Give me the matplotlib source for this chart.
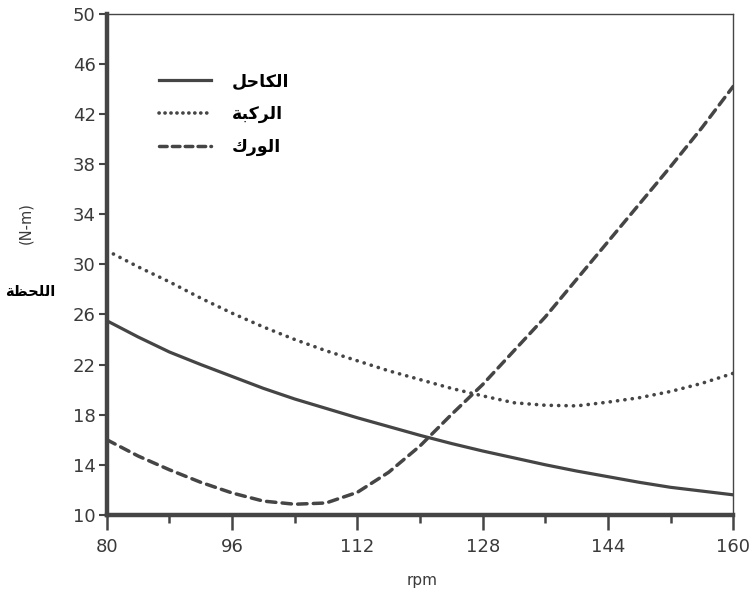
import numpy as np
import matplotlib
matplotlib.use("Agg")
import matplotlib.pyplot as plt
from matplotlib.lines import Line2D

# rpm values and joint moments (N-m)
rpm = [80, 84, 88, 92, 96, 100, 104, 108, 112, 116, 120,
       124, 128, 132, 136, 140, 144, 148, 152, 156, 160]
ankle = [25.5, 24.2, 23.0, 22.0, 21.05, 20.1, 19.25, 18.5, 17.75, 17.05, 16.35,
         15.7, 15.1, 14.55, 14.0, 13.5, 13.05, 12.6, 12.2, 11.9, 11.6]
knee = [31.1, 29.8, 28.6, 27.3, 26.1, 25.0, 24.0, 23.1, 22.3, 21.5, 20.8,
        20.1, 19.5, 18.95, 18.75, 18.7, 19.0, 19.35, 19.85, 20.5, 21.3]
hip = [16.0, 14.7, 13.6, 12.6, 11.75, 11.1, 10.85, 10.95, 11.8, 13.4, 15.5,
       18.0, 20.4, 23.1, 25.8, 28.8, 31.8, 34.8, 37.8, 40.9, 44.2]

# Arabic labels (presentation forms, visual order)
lbl_ankle = "\uFEDE\uFEA3\uFE8E\uFEDC\uFEDF\uFE8D"   # الكاحل
lbl_knee = "\uFE94\uFE92\uFEDB\uFEAE\uFEDF\uFE8D"    # الركبة
lbl_hip = "\uFED9\uFEAD\uFEEE\uFEDF\uFE8D"           # الورك
lbl_moment = "\uFE94\uFEC8\uFEA4\uFEE0\uFEDF\uFE8D"  # اللحظة

xticks = [80, 96, 112, 128, 144, 160]
yticks = list(range(10, 51, 4))

ink = "#454545"
txt = "#3a3a3a"

fig = plt.figure(figsize=(7.52, 5.98), dpi=100)
ax = fig.add_axes([0.142, 0.139, 0.833, 0.838])

ax.plot(rpm, ankle, color=ink, lw=2.3, solid_capstyle="butt")
ax.plot(rpm, knee, color=ink, lw=2.6, linestyle=(0, (0.05, 2.0)),
        dash_capstyle="round")
ax.plot(rpm, hip, color=ink, lw=2.5, linestyle=(0, (2.7, 1.8)),
        dash_capstyle="round")

ax.set_xlim(80, 160)
ax.set_ylim(10, 50)
ax.set_xticks(xticks)
ax.set_xticks([88, 104, 120, 136, 152], minor=True)
ax.set_yticks(yticks)

for side in ["left", "bottom"]:
    ax.spines[side].set_linewidth(3.2)
    ax.spines[side].set_color(ink)
for side in ["top", "right"]:
    ax.spines[side].set_linewidth(1.0)
    ax.spines[side].set_color(ink)

ax.tick_params(axis="y", direction="out", length=6, width=1.5, color=ink,
               labelsize=13, labelcolor=txt, pad=2)
ax.tick_params(axis="x", which="major", direction="out", length=11, width=1.8,
               color=ink, labelsize=13, labelcolor=txt, pad=6)
ax.tick_params(axis="x", which="minor", direction="out", length=6, width=1.8,
               color=ink)

handles = [
    Line2D([], [], color=ink, lw=2.3),
    Line2D([], [], color=ink, lw=2.6, linestyle=(0, (0.05, 1.6)),
           dash_capstyle="round"),
    Line2D([], [], color=ink, lw=2.5, linestyle=(0, (2.2, 1.5)),
           dash_capstyle="round"),
]
ax.legend(handles, [lbl_ankle, lbl_knee, lbl_hip], loc="upper left",
          bbox_to_anchor=(0.07, 0.9), frameon=False, borderpad=0,
          handlelength=3.0, handletextpad=1.2, labelspacing=0.85,
          prop={"family": "DejaVu Sans", "weight": "bold", "size": 12.5})

fig.text(0.562, 0.03, "rpm", ha="center", va="center", fontsize=11,
         color=txt)
fig.text(0.034, 0.627, "(N-m)", ha="center", va="center", rotation=90,
         fontsize=10.5, color=txt)
fig.text(0.04, 0.512, lbl_moment, ha="center", va="center", fontsize=10.5,
         fontweight="bold", color="black")

fig.savefig("out.png", dpi=100)
